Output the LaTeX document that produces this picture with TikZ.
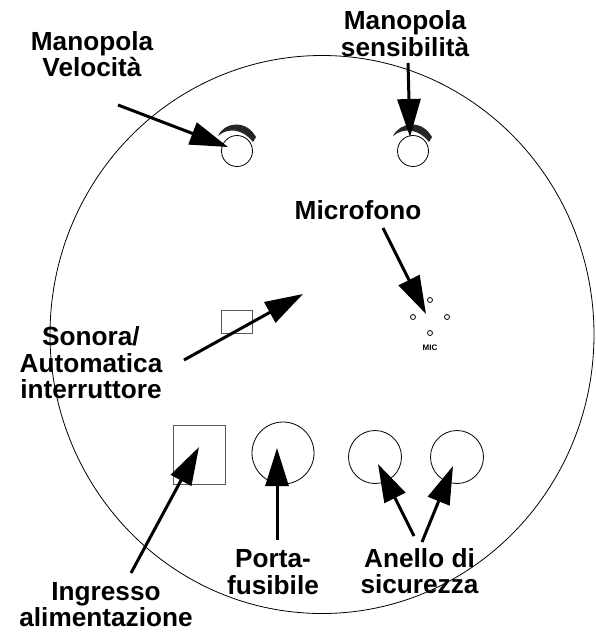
\documentclass[tikz,border=0pt]{standalone}
\usepackage{fontspec}
\setmainfont{Liberation Sans}
\usetikzlibrary{arrows.meta,shapes.geometric}
\tikzset{
 x=1pt,y=-1pt,
 lab/.style={font=\fontsize{26.2}{26.6}\selectfont\bfseries,align=center,inner sep=0pt},
 part/.style={draw=black,line width=0.8pt},
 sq/.style={draw=black!65,line width=1pt},
 pointer/.style={line width=3pt,-{Triangle[length=38pt,width=23pt]}},
 crescent/.style={fill=black!85,draw=none},
 mdot/.style={draw=black,line width=0.8pt,circle,inner sep=0pt,minimum size=5pt},
}
\begin{document}
\begin{tikzpicture}
\useasboundingbox (0,0) rectangle (596,633);
\node[part,ellipse,minimum width=544pt,minimum height=558pt,inner sep=0pt] (body) at (322,334.5) {};
% knobs
\node[part,circle,minimum size=31pt,inner sep=0pt] (k1) at (237,151) {};
\node[part,circle,minimum size=31pt,inner sep=0pt] (k2) at (413,151) {};
\fill[crescent] (218,136) .. controls (224,122) and (246,119) .. (256,137) -- (253,142) .. controls (243,129) and (228,127) .. (218,136) -- cycle;
\fill[crescent] (393,136) .. controls (400,122) and (422,119) .. (432,137) -- (429,142) .. controls (419,129) and (404,127) .. (393,136) -- cycle;
% mic
\node[mdot] (m1) at (430,300) {};
\node[mdot] (m2) at (413,317) {};
\node[mdot] (m3) at (447,317) {};
\node[mdot] (m4) at (430,333) {};
\node[font=\fontsize{8}{9}\selectfont\bfseries,inner sep=0pt] (mic) at (430,348) {MIC};
% parts
\node[sq,minimum width=31pt,minimum height=23pt,inner sep=0pt] (sw) at (236.5,322) {};
\node[sq,minimum width=52pt,minimum height=59pt,inner sep=0pt] (pw) at (199,454.5) {};
\node[part,circle,minimum size=62pt,inner sep=0pt] (fuse) at (283,453) {};
\node[part,circle,minimum size=53pt,inner sep=0pt] (r1) at (375,457) {};
\node[part,circle,minimum size=53pt,inner sep=0pt] (r2) at (457,457) {};
% labels
\node[lab] (lv) at (92,54) {Manopola\\Velocità};
\node[lab] (ls) at (405,33.5) {Manopola\\sensibilità};
\node[lab] (lm) at (358,210) {Microfono};
\node[lab] (la) at (91,363) {Sonora/\\Automatica\\interruttore};
\node[lab] (lf) at (273,572) {Porta-\\fusibile};
\node[lab] (lr) at (419.5,571) {Anello di\\sicurezza};
\node[lab] (li) at (106,604.5) {Ingresso\\alimentazione};
% pointers
\coordinate (a1s) at (118,105); \coordinate (a1t) at (228,147);
\coordinate (a2s) at (408,63);  \coordinate (a2t) at (410,137);
\coordinate (a3s) at (383,228); \coordinate (a3t) at (426,314);
\coordinate (a4s) at (184,360); \coordinate (a4t) at (303,294);
\coordinate (a5s) at (131,573); \coordinate (a5t) at (199,447);
\coordinate (a6s) at (277,540); \coordinate (a6t) at (277,448);
\coordinate (a7s) at (414,536); \coordinate (a7t) at (378,464);
\coordinate (a8s) at (422,542); \coordinate (a8t) at (453,466);
\foreach \i in {1,...,8} \draw[pointer] (a\i s) -- (a\i t);
\end{tikzpicture}
\end{document}
